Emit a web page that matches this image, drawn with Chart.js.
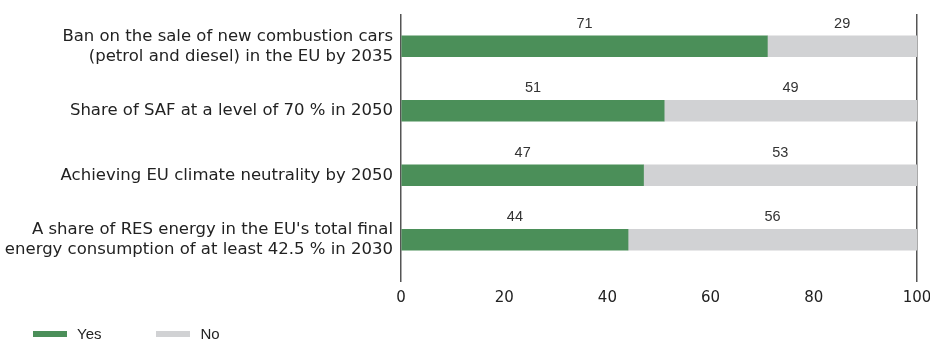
<!DOCTYPE html>
<html>
<head>
<meta charset="utf-8">
<script src="https://cdn.jsdelivr.net/npm/chart.js@4"></script>
<style>
    html, body { margin: 0; padding: 0; background: #fff; }
    #wrap { position: relative; width: 930px; height: 342px; }
    #legend { position: absolute; left: 33px; top: 325px; display: flex; font: 15px "Liberation Sans", Arial, sans-serif; color: #222; }
    .item { display: flex; align-items: center; margin-right: 55px; }
    .swatch { width: 34px; height: 6px; margin-right: 10px; }
</style>
</head>
<body>
<div id="wrap">
    <canvas id="chart" width="930" height="342"></canvas>
    <div id="legend"></div>
</div>
<script>
// Survey statements (multi-line labels) and share of answers in %
const categories = [
    ['Ban on the sale of new combustion cars', '(petrol and diesel) in the EU by 2035'],
    'Share of SAF at a level of 70 % in 2050',
    'Achieving EU climate neutrality by 2050',
    ['A share of RES energy in the EU\'s total final', 'energy consumption of at least 42.5 % in 2030']
];
const yesValues = [71, 51, 47, 44];
const noValues = [29, 49, 53, 56];
const xTicks = [0, 20, 40, 60, 80, 100];

const GREEN = '#4b8f59';
const GREY = '#d1d2d4';
const AXIS = '#555';
const LABEL_FONT = '"DejaVu Sans", sans-serif';

// Numbers written above each bar segment
const valueLabels = {
    id: 'valueLabels',
    afterDatasetsDraw(chart) {
        const ctx = chart.ctx;
        ctx.save();
        ctx.font = '14.5px "Liberation Sans", Arial, sans-serif';
        ctx.fillStyle = '#333';
        ctx.textAlign = 'center';
        ctx.textBaseline = 'middle';
        chart.data.datasets.forEach((ds, i) => {
            chart.getDatasetMeta(i).data.forEach((bar, j) => {
                const x = (bar.x + bar.base) / 2;
                const y = bar.y - bar.height / 2 - 12;
                ctx.fillText(ds.data[j], x, y);
            });
        });
        ctx.restore();
    }
};

const chart = new Chart(document.getElementById('chart'), {
    type: 'bar',
    data: {
        labels: categories,
        datasets: [
            { label: 'Yes', data: yesValues, backgroundColor: GREEN, barThickness: 21 },
            { label: 'No', data: noValues, backgroundColor: GREY, barThickness: 21 }
        ]
    },
    options: {
        indexAxis: 'y',
        responsive: false,
        animation: false,
        layout: { padding: { top: 14, right: 13, bottom: 40, left: 0 } },
        plugins: {
            legend: { display: false },
            tooltip: { enabled: false }
        },
        scales: {
            x: {
                stacked: true,
                min: 0,
                max: 100,
                afterBuildTicks: (scale) => { scale.ticks = xTicks.map(v => ({ value: v })); },
                afterFit: (scale) => {
                    scale.height = 342 - 40 - 272;
                    scale.paddingLeft = 0;
                    scale.paddingRight = 0;
                },
                border: { display: false },
                grid: {
                    color: (c) => (c.tick && (c.tick.value === 0 || c.tick.value === 100)) ? AXIS : 'rgba(0,0,0,0)',
                    lineWidth: 1.5,
                    tickLength: 10
                },
                ticks: {
                    padding: 7,
                    color: '#222',
                    font: { family: LABEL_FONT, size: 15 }
                }
            },
            y: {
                stacked: true,
                afterFit: (scale) => {
                    scale.width = 401;
                    scale.paddingTop = 0;
                    scale.paddingBottom = 0;
                },
                border: { display: false },
                grid: { display: false },
                ticks: {
                    padding: 0,
                    color: '#222',
                    font: { family: LABEL_FONT, size: 16.5, lineHeight: 1.21 }
                }
            }
        }
    },
    plugins: [valueLabels]
});

// Legend built from the dataset colours
const legend = document.getElementById('legend');
chart.data.datasets.forEach(ds => {
    const item = document.createElement('div');
    item.className = 'item';
    item.innerHTML = `<span class="swatch" style="background:${ds.backgroundColor}"></span><span>${ds.label}</span>`;
    legend.appendChild(item);
});
</script>
</body>
</html>
